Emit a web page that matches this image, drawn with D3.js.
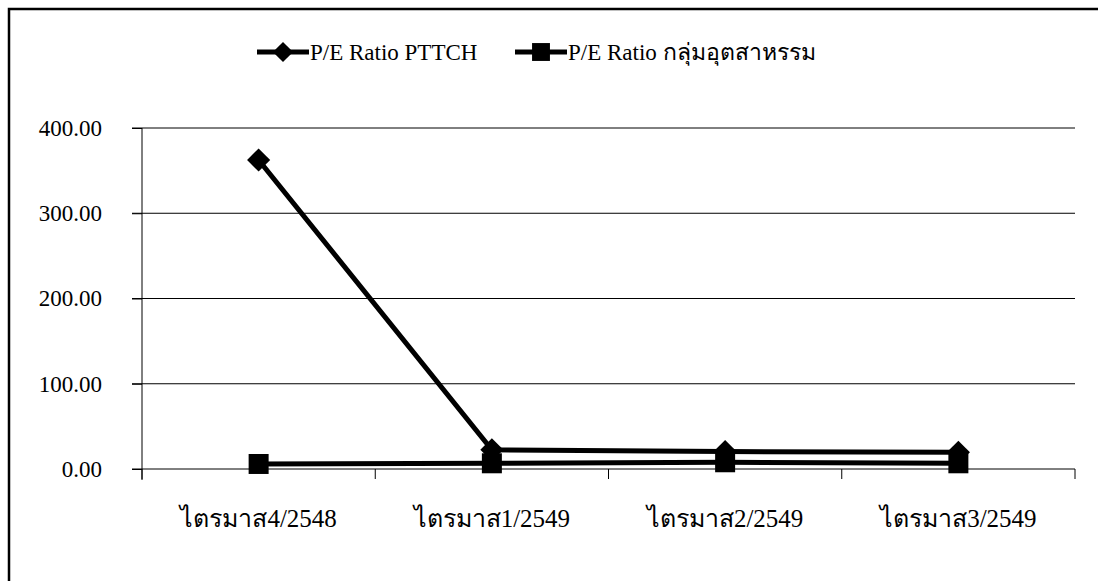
<!DOCTYPE html>
<html>
<head>
  <meta charset='utf-8'/>
  <style>
body { margin: 0; background: #fff; }
text { font-family: "Liberation Serif", "Times New Roman", serif; fill: #000; }
  </style>
  <script src="https://d3js.org/d3.v7.min.js"></script>
</head>
<body>
<svg width="1098" height="581"></svg>
<script>

var categories = ["ไตรมาส4/2548", "ไตรมาส1/2549", "ไตรมาส2/2549", "ไตรมาส3/2549"];
var seriesNames = ["P/E Ratio PTTCH", "P/E Ratio กลุ่มอุตสาหรรม"];
var pttch = [362.5, 22.5, 20.5, 19.6];
var industry = [5.9, 6.7, 7.9, 6.7];
var yTicks = [0, 100, 200, 300, 400];

var svg = d3.select("svg");

// outer frame (runs off the right and bottom edges)
svg.append("path")
    .attr("d", "M9,600 V9 H1120")
    .attr("fill", "none")
    .attr("stroke", "#000")
    .attr("stroke-width", 2.5);

var x = d3.scaleBand().domain(categories).range([142, 1075]);
var y = d3.scaleLinear().domain([0, 400]).range([469, 128]);

// gridlines
svg.append("g").selectAll("line")
  .data(yTicks.slice(1))
  .enter().append("line")
    .attr("x1", 132).attr("x2", 1075)
    .attr("y1", function(d) { return y(d); })
    .attr("y2", function(d) { return y(d); })
    .attr("stroke", "#000").attr("stroke-width", 1);

var yAxis = svg.append("g")
    .attr("transform", "translate(142,0)")
    .call(d3.axisLeft(y).tickValues(yTicks).tickSize(10).tickPadding(30).tickFormat(d3.format(".2f")));
yAxis.select(".domain").remove();
yAxis.selectAll("line").attr("stroke", "#000");
yAxis.selectAll("text").style("font-size", "23px").attr("fill", "#000");
svg.append("line").attr("x1", 142).attr("x2", 142).attr("y1", 128).attr("y2", 480)
    .attr("stroke", "#000").attr("stroke-width", 1);

// x axis with ticks between categories
var bounds = categories.map(function(c) { return x(c); }).concat([x.range()[1]]);
svg.append("line").attr("x1", 132).attr("x2", 1075).attr("y1", y(0)).attr("y2", y(0))
    .attr("stroke", "#000").attr("stroke-width", 1);
svg.append("g").selectAll("line")
  .data(bounds)
  .enter().append("line")
    .attr("x1", function(d) { return d; }).attr("x2", function(d) { return d; })
    .attr("y1", y(0)).attr("y2", y(0) + 10)
    .attr("stroke", "#000");
svg.append("g").selectAll("text")
  .data(categories)
  .enter().append("text")
    .attr("x", function(d) { return x(d) + x.bandwidth() / 2; })
    .attr("y", 527)
    .attr("text-anchor", "middle")
    .style("font-size", "25px")
    .text(function(d) { return d; });

var cx = function(d, i) { return x(categories[i]) + x.bandwidth() / 2; };
var line = d3.line().x(cx).y(function(d) { return y(d); });

// series
var diamond = d3.symbol().type(d3.symbolDiamond2).size(340);
var square = d3.symbol().type(d3.symbolSquare).size(400);

svg.append("path").datum(industry)
    .attr("d", line).attr("fill", "none").attr("stroke", "#000").attr("stroke-width", 5);
svg.append("path").datum(pttch)
    .attr("d", line).attr("fill", "none").attr("stroke", "#000").attr("stroke-width", 5);

svg.append("g").selectAll("path")
  .data(pttch)
  .enter().append("path")
    .attr("d", diamond)
    .attr("transform", function(d, i) { return "translate(" + cx(d, i) + "," + y(d) + ")"; });
svg.append("g").selectAll("path")
  .data(industry)
  .enter().append("path")
    .attr("d", square)
    .attr("transform", function(d, i) { return "translate(" + cx(d, i) + "," + y(d) + ")"; });

// legend
var legendX = [257, 515];
var legend = svg.append("g").selectAll("g")
  .data(seriesNames)
  .enter().append("g")
    .attr("transform", function(d, i) { return "translate(" + legendX[i] + ",52)"; });
legend.append("line").attr("x1", 0).attr("x2", 52)
    .attr("stroke", "#000").attr("stroke-width", 5);
legend.append("path")
    .attr("d", function(d, i) { return i === 0 ? d3.symbol().type(d3.symbolDiamond2).size(260)() : d3.symbol().type(d3.symbolSquare).size(320)(); })
    .attr("transform", "translate(26,0)");
legend.append("text")
    .attr("x", 53).attr("y", 8)
    .style("font-size", "23px")
    .text(function(d) { return d; });

</script>
</body>
</html>
